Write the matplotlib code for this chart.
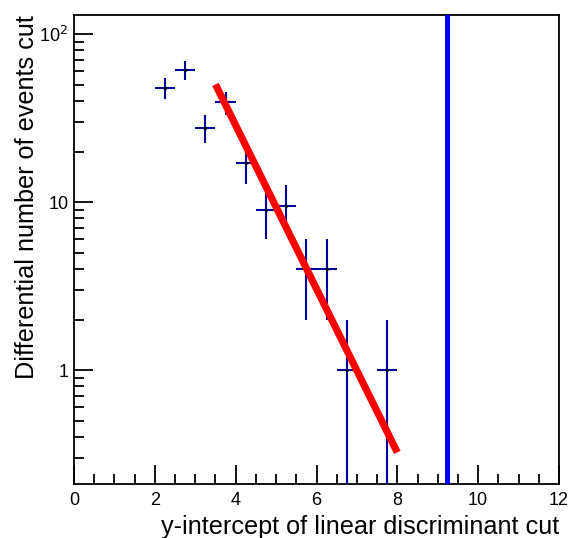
import numpy as np
import matplotlib.pyplot as plt
from matplotlib.ticker import MultipleLocator, LogLocator, FixedLocator, FixedFormatter, NullFormatter

# ============================================================
# DATA
# ============================================================
bin_centers = [2.25, 2.75, 3.25, 3.75, 4.25, 4.75, 5.25, 5.75, 6.25, 6.75, 7.75]
counts      = [48, 61, 27.7, 39.2, 17, 9.0, 9.5, 4.0, 4.0, 1.0, 1.0]
bin_half    = 0.25

# exponential fit: exp(p0 + p1*x) over [fit_lo, fit_hi]
fit_p0, fit_p1 = 7.84, -1.121
fit_lo, fit_hi = 3.5, 8.0

cut_value = 9.22

plt.rcParams["font.family"] = ["Liberation Sans", "DejaVu Sans"]

# ============================================================
# PLOT
# ============================================================
fig = plt.figure(figsize=(5.74, 5.38), dpi=100)
ax = fig.add_axes([74 / 574, 1 - 484 / 538, (559 - 74) / 574, (484 - 15) / 538])

x = np.array(bin_centers)
y = np.array(counts)
err = np.sqrt(y)
lo = np.minimum(err, y - 1e-3)
ax.errorbar(x, y, xerr=bin_half, yerr=[lo, err], fmt="none",
            ecolor="#00009a", elinewidth=1.5, capsize=0, zorder=3)
ax.plot(x, y, ls="none", marker="o", ms=1.2, color="black", zorder=4)

xf = np.linspace(fit_lo, fit_hi, 200)
ax.plot(xf, np.exp(fit_p0 + fit_p1 * xf), color="#ff0000", lw=5.2,
        solid_capstyle="butt", zorder=5)

ax.axvline(cut_value, color="#0000ff", lw=3.6, zorder=6)

ax.set_yscale("log")
ax.set_xlim(0, 12)
ax.set_ylim(0.21, 130)

ax.xaxis.set_major_locator(MultipleLocator(2))
ax.xaxis.set_minor_locator(MultipleLocator(0.5))
ax.yaxis.set_major_locator(FixedLocator([1, 10, 100]))
ax.yaxis.set_major_formatter(FixedFormatter(["1", "10", r"10$^{2}$"]))
ax.yaxis.set_minor_locator(LogLocator(base=10, subs=np.arange(2, 10)))
ax.yaxis.set_minor_formatter(NullFormatter())

ax.tick_params(which="both", direction="in", top=False, right=False, width=1.3,
               labelsize=13, colors="black")
ax.tick_params(which="major", length=14, pad=6)
ax.tick_params(which="minor", length=7)
ax.tick_params(axis="y", which="major", pad=4)

for s in ax.spines.values():
    s.set_linewidth(1.3)

ax.set_xlabel("y-intercept of linear discriminant cut", fontsize=18.2, loc="right", labelpad=4)
ax.set_ylabel("Differential number of events cut", fontsize=18.2, loc="top", labelpad=0)

fig.savefig("out.png", dpi=100)
